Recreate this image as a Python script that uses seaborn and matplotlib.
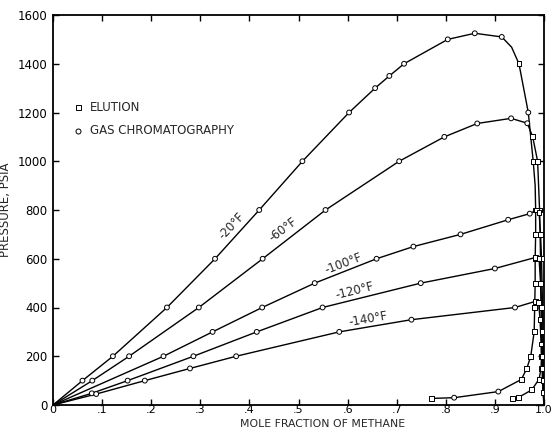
import numpy as np
import pandas as pd
import matplotlib
matplotlib.use("Agg")
import matplotlib.pyplot as plt
import seaborn as sns

# ---------------- data ----------------
TEMPS = ["-20°F", "-60°F", "-100°F", "-120°F", "-140°F"]

# -20 F : bubble branch then dew branch
T20_X = [0, 0.060, 0.122, 0.232, 0.330, 0.420, 0.508, 0.603, 0.656, 0.685, 0.715, 0.804, 0.859, 0.914,
         0.934, 0.949, 0.968, 0.978, 0.982, 0.983, 0.983, 0.982, 0.982, 0.981, 0.980, 0.973, 0.965,
         0.954, 0.907, 0.817, 0.771]
T20_P = [0, 100, 200, 400, 600, 800, 1000, 1200, 1300, 1350, 1400, 1500, 1525, 1510,
         1468, 1400, 1200, 1000, 900, 800, 700, 600, 500, 400, 300, 200, 150,
         105, 55, 30, 27]
T20_M = [None, "GC", "GC", "GC", "GC", "GC", "GC", "GC", "GC", "GC", "GC", "GC", "GC", "GC",
         None, "EL", "GC", "EL", None, "EL", "EL", "EL", "EL", "EL", "EL", "EL", "EL",
         "EL", "GC", "GC", "EL"]

T60_X = [0, 0.080, 0.155, 0.297, 0.427, 0.555, 0.705, 0.797, 0.864, 0.933, 0.966, 0.977, 0.987,
         0.991, 0.993, 0.994, 0.995, 0.995, 0.994, 0.990, 0.975, 0.948, 0.936]
T60_P = [0, 100, 200, 400, 600, 800, 1000, 1100, 1155, 1176, 1156, 1100, 1000,
         800, 600, 400, 300, 200, 150, 106, 62, 31, 28]
T60_M = [None, "GC", "GC", "GC", "GC", "GC", "GC", "GC", "GC", "GC", "GC", "EL", "EL",
         "EL", "EL", "EL", None, "EL", "EL", "EL", "EL", "EL", "EL"]

T100_X = [0, 0.225, 0.325, 0.426, 0.533, 0.659, 0.734, 0.830, 0.927, 0.971, 0.985, 0.990,
          0.993, 0.995, 0.996, 0.997, 0.998, 0.999, 1.0]
T100_P = [0, 200, 300, 400, 500, 600, 650, 700, 760, 785, 800, 790,
          700, 600, 500, 400, 300, 150, 0]
T100_M = [None, "GC", "GC", "GC", "GC", "GC", "GC", "GC", "GC", "GC", "EL", "EL",
          "EL", "EL", "EL", "EL", "EL", "EL", None]

T120_X = [0, 0.079, 0.152, 0.286, 0.415, 0.549, 0.749, 0.900, 0.982, 0.990,
          0.993, 0.995, 0.996, 0.997, 0.998, 1.0]
T120_P = [0, 48, 100, 200, 300, 400, 500, 560, 605, 600,
          500, 400, 300, 200, 100, 0]
T120_M = [None, "GC", "GC", "GC", "GC", "GC", "GC", "GC", "EL", "EL",
          "EL", "EL", "EL", "EL", "EL", None]

T140_X = [0, 0.088, 0.187, 0.279, 0.373, 0.583, 0.730, 0.941, 0.982, 0.989,
          0.992, 0.994, 0.996, 0.998, 1.0]
T140_P = [0, 45, 100, 150, 200, 300, 350, 400, 425, 420,
          350, 250, 150, 50, 0]
T140_M = [None, "GC", "GC", "GC", "GC", "GC", "GC", "GC", "EL", "EL",
          "EL", "EL", "EL", "EL", None]

X_TICKS = [0, 0.1, 0.2, 0.3, 0.4, 0.5, 0.6, 0.7, 0.8, 0.9, 1.0]
X_TICK_LABELS = ["0", ".1", ".2", ".3", ".4", ".5", ".6", ".7", ".8", ".9", "1.0"]
Y_TICKS = [0, 200, 400, 600, 800, 1000, 1200, 1400, 1600]

# ---------------- build tidy table ----------------
rows = []
for t, xs, ps, ms in zip(TEMPS,
                         [T20_X, T60_X, T100_X, T120_X, T140_X],
                         [T20_P, T60_P, T100_P, T120_P, T140_P],
                         [T20_M, T60_M, T100_M, T120_M, T140_M]):
    for i, (x, p, m) in enumerate(zip(xs, ps, ms)):
        rows.append({"temp": t, "order": i, "x": x, "P": p, "method": m})
df = pd.DataFrame(rows)

# ---------------- plot ----------------
sns.set_style("ticks")
plt.rcParams["font.family"] = ["DejaVu Sans"]

fig = plt.figure(figsize=(5.6, 4.29), dpi=100)
ax = fig.add_axes([53 / 560, 1 - 405 / 429, 491 / 560, 390 / 429])

sns.lineplot(data=df, x="x", y="P", units="temp", estimator=None, sort=False,
             color="black", lw=1.0, ax=ax, legend=False)

mk = df[df["method"].notna()]
sns.scatterplot(data=mk, x="x", y="P", style="method",
                markers={"GC": "o", "EL": "s"}, color="white",
                edgecolor="black", linewidth=0.7, s=12, ax=ax,
                legend=False, zorder=3)

# curve labels
label_pos = {"-20°F": (0.364, 735, 47), "-60°F": (0.469, 718, 37),
             "-100°F": (0.591, 578, 21), "-120°F": (0.615, 468, 14),
             "-140°F": (0.642, 352, 10)}
for t in TEMPS:
    x, y, r = label_pos[t]
    ax.text(x, y, t, rotation=r, rotation_mode="anchor", ha="center",
            va="center", fontsize=8.5)

# legend (drawn by hand like the original)
ax.plot([0.051], [0.764], marker="s", ms=3.6, mfc="white", mec="black", mew=0.7,
        ls="none", transform=ax.transAxes)
ax.text(0.075, 0.764, "ELUTION", transform=ax.transAxes, va="center", fontsize=8.5)
ax.plot([0.051], [0.703], marker="o", ms=3.6, mfc="white", mec="black", mew=0.7,
        ls="none", transform=ax.transAxes)
ax.text(0.075, 0.703, "GAS CHROMATOGRAPHY", transform=ax.transAxes, va="center",
        fontsize=8.5)

ax.set_xlim(0, 1.0)
ax.set_ylim(0, 1600)
ax.set_xticks(X_TICKS)
ax.set_xticklabels(X_TICK_LABELS)
ax.set_yticks(Y_TICKS)
ax.tick_params(axis="both", which="both", top=True, right=True, direction="in",
               length=4, width=1, labelsize=8.5, colors="black")
ax.tick_params(axis="x", pad=0.3, labelsize=8)
ax.tick_params(axis="y", pad=4)
for s in ax.spines.values():
    s.set_linewidth(1.3)
    s.set_color("black")
    s.set_visible(True)

ax.set_xlabel("MOLE FRACTION OF METHANE", fontsize=7.8, va="bottom")
ax.xaxis.set_label_coords(0.549, -24 / 390)
ax.set_ylabel("PRESSURE, PSIA", fontsize=8.5)
ax.yaxis.set_label_coords(-0.083, 0.5)

fig.savefig("out.png", dpi=100)
